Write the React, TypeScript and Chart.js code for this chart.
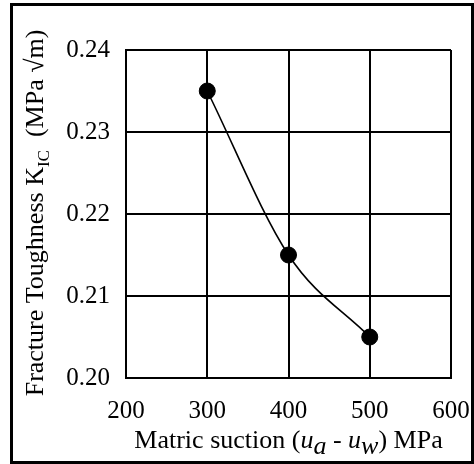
import React, { useEffect, useRef } from "react";
import { Chart, registerables } from "chart.js";

Chart.register(...registerables);

// ---- data ----
const suction = [300, 400, 500];
const toughness = [0.235, 0.215, 0.205];
const xTicks = [200, 300, 400, 500, 600];
const yTicks = [0.2, 0.21, 0.22, 0.23, 0.24];

type Part = { t: string; style: "n" | "i" | "isub" | "sub" };
const xTitleParts: Part[] = [
  { t: "Matric suction (", style: "n" },
  { t: "u", style: "i" },
  { t: "a", style: "isub" },
  { t: " - ", style: "n" },
  { t: "u", style: "i" },
  { t: "w", style: "isub" },
  { t: ") MPa", style: "n" },
];
const yTitleParts: Part[] = [
  { t: "Fracture Toughness K", style: "n" },
  { t: "IC", style: "sub" },
  { t: "  (MPa \u221Am)", style: "n" },
];

const FAMILY = "'Liberation Serif', 'Times New Roman', serif";

function drawParts(
  ctx: CanvasRenderingContext2D,
  parts: Part[],
  size: number,
  subSize: number,
  subDy: number
) {
  const fontFor = (p: Part) => {
    if (p.style === "n") return `${size}px ${FAMILY}`;
    if (p.style === "i") return `italic ${size}px ${FAMILY}`;
    if (p.style === "isub") return `italic ${subSize}px ${FAMILY}`;
    return `${subSize}px ${FAMILY}`;
  };
  let total = 0;
  const widths = parts.map((p) => {
    ctx.font = fontFor(p);
    const w = ctx.measureText(p.t).width;
    total += w;
    return w;
  });
  let x = -total / 2;
  parts.forEach((p, i) => {
    ctx.font = fontFor(p);
    const dy = p.style === "isub" || p.style === "sub" ? subDy : 0;
    ctx.fillText(p.t, x, dy);
    x += widths[i];
  });
}

const titlesPlugin = {
  id: "customTitles",
  afterDraw(chart: any) {
    const { ctx, chartArea } = chart;
    ctx.save();
    ctx.fillStyle = "#000";
    ctx.textAlign = "left";
    ctx.textBaseline = "alphabetic";
    // x title
    ctx.save();
    ctx.translate((chartArea.left + chartArea.right) / 2, 448);
    drawParts(ctx, xTitleParts, 26, 26, 6);
    ctx.restore();
    // y title
    ctx.save();
    ctx.translate(43, 213);
    ctx.rotate(-Math.PI / 2);
    drawParts(ctx, yTitleParts, 26, 17, 6);
    ctx.restore();
    ctx.restore();
  },
};

export default function App() {
  const ref = useRef<HTMLCanvasElement | null>(null);

  useEffect(() => {
    if (!ref.current) return;
    const tickFont = { family: FAMILY, size: 25 };
    const chart = new Chart(ref.current, {
      type: "line",
      data: {
        datasets: [
          {
            data: suction.map((x, i) => ({ x, y: toughness[i] })),
            borderColor: "#000",
            backgroundColor: "#000",
            borderWidth: 1.6,
            pointRadius: 8,
            pointBorderWidth: 1,
            pointBackgroundColor: "#000",
            pointBorderColor: "#000",
            cubicInterpolationMode: "monotone",
            fill: false,
          },
        ],
      },
      options: {
        animation: false,
        responsive: false,
        devicePixelRatio: 1,
        layout: { padding: { left: 0, top: 50, right: 23, bottom: 0 } },
        plugins: {
          legend: { display: false },
          tooltip: { enabled: false },
          title: { display: false },
        },
        scales: {
          x: {
            type: "linear",
            min: 200,
            max: 600,
            afterBuildTicks: (s: any) => {
              s.ticks = xTicks.map((v) => ({ value: v }));
            },
            afterFit: (s: any) => {
              s.height = 86;
              s.paddingLeft = 0;
              s.paddingRight = 0;
            },
            grid: { color: "#000", lineWidth: 2, drawTicks: false },
            border: { display: true, color: "#000", width: 2 },
            ticks: {
              color: "#000",
              font: tickFont,
              padding: 18,
              maxRotation: 0,
              autoSkip: false,
              callback: (v: any) => String(v),
            },
          },
          y: {
            type: "linear",
            min: 0.2,
            max: 0.24,
            afterBuildTicks: (s: any) => {
              s.ticks = yTicks.map((v) => ({ value: v }));
            },
            afterFit: (s: any) => {
              s.width = 126;
              s.paddingTop = 0;
              s.paddingBottom = 0;
            },
            grid: { color: "#000", lineWidth: 2, drawTicks: false },
            border: { display: true, color: "#000", width: 2 },
            ticks: {
              color: "#000",
              font: tickFont,
              padding: 16,
              autoSkip: false,
              callback: (v: any) => Number(v).toFixed(2),
            },
          },
        },
      },
      plugins: [titlesPlugin],
    });
    return () => chart.destroy();
  }, []);

  return (
    <div>
      <div
        style={{
          position: "fixed",
          left: 10,
          top: 3,
          width: 464,
          height: 461,
          boxSizing: "border-box",
          border: "3px solid #000",
          background: "#fff",
        }}
      />
      <canvas
        ref={ref}
        width={474}
        height={464}
        style={{ position: "fixed", left: 0, top: 0, width: 474, height: 464 }}
      />
    </div>
  );
}
